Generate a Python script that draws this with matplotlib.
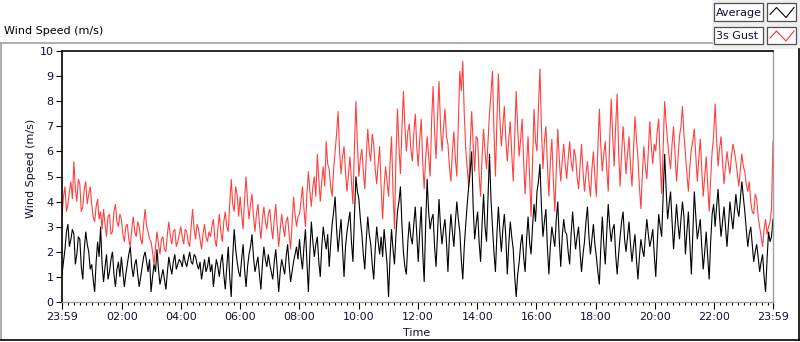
import numpy as np
import matplotlib
matplotlib.use("Agg")
import matplotlib.pyplot as plt
from matplotlib.lines import Line2D
from matplotlib.patches import Rectangle

# ---- data (3-minute resolution, 23:59 -> 23:59) ----
gust = [
    3.4, 4.2, 4.6, 3.6, 3.9, 4.4, 4.8, 4.1, 5.6, 4.5, 4.0, 4.9, 4.7, 3.6, 3.8, 4.5, 4.8, 3.9, 4.3, 4.6,
    3.9, 3.4, 3.2, 3.8, 4.1, 3.3, 3.6, 2.9, 3.7, 3.1, 2.6, 3.4, 3.5, 2.7, 2.8, 3.6, 3.9, 3.2, 3.0, 3.5,
    3.3, 2.7, 2.4, 3.0, 3.1, 2.5, 2.2, 2.9, 3.4, 2.8, 2.6, 3.2, 3.0, 2.5, 2.3, 3.1, 3.7, 3.0, 2.8, 2.5,
    2.4, 2.0, 1.5, 2.2, 2.8, 2.3, 1.9, 2.5, 2.6, 2.1, 2.0, 2.7, 3.2, 2.6, 2.3, 2.8, 2.9, 2.2, 2.4, 2.7,
    3.0, 2.6, 2.3, 2.9, 2.8, 2.4, 2.2, 3.0, 3.7, 2.9, 2.5, 3.1, 2.9, 2.5, 2.1, 2.7, 3.1, 2.6, 2.4, 2.8,
    2.6, 3.0, 3.3, 2.5, 2.2, 2.9, 3.5, 2.8, 2.4, 3.2, 3.6, 3.0, 2.8, 3.9, 4.9, 3.9, 3.6, 4.6, 4.3, 3.4,
    4.2, 3.5, 2.9, 4.1, 5.0, 4.0, 3.3, 3.9, 4.3, 3.4, 2.8, 3.5, 3.9, 3.1, 2.5, 3.3, 3.8, 3.2, 2.9, 3.5,
    3.7, 3.0, 2.5, 3.3, 3.9, 3.0, 2.2, 2.9, 3.5, 3.0, 2.6, 3.2, 3.4, 2.7, 2.1, 3.1, 4.2, 3.5, 3.0, 3.4,
    3.5, 4.0, 4.6, 3.7, 3.0, 4.3, 5.2, 4.4, 3.8, 4.6, 5.0, 4.2, 5.9, 4.9, 4.0, 4.8, 5.4, 4.6, 6.4, 5.5,
    5.3, 4.6, 4.2, 5.3, 6.0, 6.7, 7.6, 6.0, 5.1, 5.8, 6.2, 5.2, 4.4, 5.1, 5.8, 4.8, 3.9, 6.1, 8.0, 6.3,
    5.0, 5.7, 6.1, 5.2, 4.5, 5.8, 6.9, 6.0, 5.6, 6.7, 6.3, 5.3, 4.7, 5.5, 6.2, 4.6, 3.3, 4.6, 5.4, 4.8,
    4.2, 5.5, 6.6, 4.4, 2.9, 5.8, 7.7, 6.2, 5.1, 6.9, 8.4, 7.0, 6.0, 6.8, 7.1, 6.1, 5.6, 6.7, 7.5, 6.2,
    5.4, 6.5, 7.3, 5.6, 4.5, 5.7, 6.6, 5.8, 5.0, 7.2, 8.6, 6.8, 5.7, 7.4, 8.8, 7.0, 6.0, 6.9, 7.7, 6.6,
    6.3, 5.4, 4.8, 6.0, 6.8, 5.7, 5.0, 7.1, 9.2, 8.4, 9.6, 7.5, 6.1, 5.3, 4.6, 6.2, 7.6, 6.3, 5.2, 6.6,
    6.5, 5.1, 4.2, 5.8, 6.9, 6.0, 5.3, 6.4, 7.5, 8.3, 9.2, 6.8, 5.0, 7.2, 9.1, 7.3, 6.2, 7.0, 7.8, 6.5,
    5.6, 6.5, 7.2, 5.9, 4.8, 6.6, 8.4, 6.9, 5.8, 6.5, 7.3, 5.6, 4.3, 5.5, 6.6, 5.0, 3.4, 5.6, 7.7, 6.4,
    6.0, 7.8, 9.3, 6.9, 5.3, 6.4, 7.0, 5.5, 4.2, 5.6, 6.5, 4.9, 3.6, 5.2, 6.9, 5.7, 4.8, 5.6, 6.3, 5.5,
    4.9, 5.7, 6.4, 5.6, 5.2, 6.1, 5.8, 5.0, 4.5, 5.4, 6.3, 5.2, 4.4, 5.1, 5.6, 4.8, 4.2, 5.3, 6.0, 5.0,
    4.2, 6.1, 7.7, 6.2, 5.2, 5.9, 6.4, 5.3, 4.4, 6.5, 8.1, 6.6, 5.4, 7.0, 8.3, 6.0, 4.6, 5.9, 7.0, 6.1,
    5.1, 5.9, 6.6, 5.4, 4.6, 6.0, 7.4, 6.5, 5.8, 4.6, 3.7, 5.1, 6.2, 5.4, 4.9, 6.0, 7.2, 6.2, 5.5, 6.3,
    6.0, 6.8, 7.3, 5.6, 4.3, 6.2, 8.0, 7.1, 6.4, 5.8, 5.3, 6.3, 7.0, 5.9, 4.8, 5.7, 6.6, 7.0, 7.8, 6.7,
    5.9, 5.1, 4.4, 5.4, 6.1, 6.4, 6.9, 5.8, 4.8, 5.7, 6.5, 5.3, 4.2, 5.0, 5.8, 4.7, 3.6, 4.9, 6.0, 6.6,
    7.9, 6.5, 5.4, 6.1, 6.6, 5.6, 4.7, 5.4, 6.0, 5.5, 5.1, 5.8, 6.3, 6.0, 5.6, 5.1, 4.6, 5.3, 5.9, 5.4,
    5.2, 4.7, 4.4, 4.8, 4.0, 3.6, 3.5, 4.3, 4.1, 3.4, 3.0, 2.6, 2.2, 2.9, 3.3, 2.7, 3.0, 3.2, 3.7, 6.4,
]
average = [
    1.1, 1.6, 2.1, 2.8, 3.1, 2.2, 2.5, 2.9, 2.7, 1.5, 1.9, 2.6, 2.5, 1.4, 0.9, 2.1, 2.8, 2.3, 2.0, 1.3,
    1.5, 0.9, 0.4, 1.6, 2.4, 1.8, 3.0, 1.5, 0.8, 1.4, 1.9, 0.9, 1.2, 1.7, 2.0, 1.1, 0.6, 1.3, 1.6, 1.0,
    1.8, 1.2, 0.6, 1.1, 1.5, 1.9, 2.2, 1.4, 1.0, 1.5, 1.7, 1.1, 0.6, 1.0, 1.4, 1.8, 2.0, 1.6, 1.2, 1.7,
    0.4, 1.0, 1.5, 1.2, 2.1, 1.3, 0.7, 1.0, 1.3, 0.9, 0.5, 1.2, 1.8, 1.4, 1.1, 1.6, 1.9, 1.3, 1.5, 1.7,
    1.6, 1.4, 1.9, 1.6, 1.4, 1.7, 2.0, 1.6, 1.5, 1.9, 1.8, 1.5, 1.3, 1.6, 0.9, 1.3, 1.7, 1.2, 1.4, 1.8,
    1.2, 1.5, 0.6, 1.2, 1.7, 1.4, 1.0, 1.6, 1.9, 1.1, 0.5, 1.4, 2.2, 1.0, 0.2, 1.8, 2.9, 2.1, 1.6, 1.2,
    1.0, 1.7, 2.3, 1.3, 0.6, 1.4, 1.9, 2.2, 2.7, 1.8, 1.2, 1.5, 1.8, 1.1, 0.5, 1.5, 2.2, 1.7, 1.4, 1.9,
    1.5, 1.2, 0.9, 1.6, 2.1, 1.3, 0.4, 1.2, 1.7, 1.4, 1.1, 1.8, 2.3, 1.5, 0.8, 1.2, 1.6, 1.9, 2.2, 1.7,
    2.5, 1.8, 1.3, 2.2, 2.9, 1.6, 0.4, 2.0, 3.2, 2.4, 1.8, 2.3, 2.6, 1.6, 1.0, 2.2, 3.0, 2.5, 2.1, 2.7,
    1.4, 2.3, 3.1, 3.6, 4.2, 2.9, 2.0, 2.7, 3.3, 2.1, 1.0, 2.2, 2.8, 3.2, 3.6, 2.4, 1.6, 3.4, 5.0, 4.4,
    4.1, 3.3, 2.7, 1.9, 1.3, 2.5, 3.4, 2.7, 2.3, 1.5, 0.9, 2.1, 3.0, 2.4, 1.9, 2.6, 1.8, 2.9, 2.2, 1.5,
    0.2, 1.8, 2.9, 2.1, 1.5, 2.7, 3.6, 4.0, 4.6, 3.1, 2.0, 1.4, 1.1, 2.4, 3.2, 2.6, 2.3, 3.1, 3.8, 2.7,
    1.6, 2.8, 3.8, 2.0, 0.8, 3.1, 4.9, 3.6, 2.9, 3.3, 3.5, 2.2, 1.4, 2.8, 4.1, 3.0, 2.3, 2.9, 3.3, 2.4,
    1.2, 2.6, 3.5, 2.8, 2.2, 3.2, 4.0, 3.3, 2.8, 1.7, 0.9, 2.2, 3.1, 3.9, 4.6, 5.2, 6.0, 3.8, 2.5, 3.1,
    3.6, 2.4, 1.6, 3.1, 4.3, 3.0, 2.4, 4.2, 5.9, 4.1, 3.0, 2.0, 1.2, 2.7, 3.8, 2.8, 2.0, 2.9, 3.5, 2.6,
    1.1, 2.3, 3.2, 2.6, 2.1, 1.0, 0.2, 1.1, 1.6, 2.3, 2.7, 1.8, 1.2, 2.5, 3.4, 2.4, 1.9, 3.0, 3.9, 3.2,
    4.4, 4.8, 5.5, 3.8, 2.6, 3.2, 3.7, 2.2, 1.1, 2.2, 3.0, 2.6, 2.2, 3.3, 4.0, 2.5, 1.4, 2.6, 3.3, 2.8,
    2.7, 2.0, 1.5, 2.7, 3.6, 2.8, 2.1, 2.6, 3.0, 2.0, 1.2, 1.9, 2.4, 3.2, 3.8, 2.6, 1.9, 2.5, 3.1, 2.3,
    1.8, 1.2, 0.7, 2.2, 3.4, 2.3, 1.5, 2.8, 3.9, 3.0, 2.4, 2.9, 3.1, 1.9, 1.1, 1.9, 2.6, 3.2, 3.6, 2.5,
    2.0, 2.6, 3.2, 2.3, 1.6, 2.2, 2.7, 1.7, 0.9, 1.8, 2.5, 2.1, 1.8, 2.6, 3.3, 2.7, 2.2, 2.5, 2.9, 1.9,
    1.0, 2.3, 3.5, 3.0, 2.6, 4.2, 5.9, 4.5, 3.3, 3.9, 4.4, 3.2, 2.1, 3.0, 3.9, 3.1, 2.5, 3.3, 4.0, 3.4,
    1.9, 2.8, 3.6, 2.3, 1.1, 2.8, 4.4, 3.4, 2.5, 2.9, 3.3, 2.2, 1.3, 2.0, 2.8, 1.8, 0.9, 2.4, 3.5, 3.9,
    3.0, 3.8, 4.5, 3.4, 2.6, 3.2, 3.8, 3.0, 2.2, 3.1, 4.0, 3.4, 2.9, 3.6, 4.3, 3.7, 3.4, 4.1, 4.8, 4.2,
    3.6, 2.9, 2.2, 2.7, 3.0, 2.3, 1.6, 2.0, 2.3, 1.8, 1.2, 1.6, 1.9, 1.0, 0.4, 1.7, 2.8, 2.4, 2.6, 3.3,
]
tick_minutes = [0, 121, 241, 361, 481, 601, 721, 841, 961, 1081, 1201, 1321, 1440]
tick_labels = ["23:59", "02:00", "04:00", "06:00", "08:00", "10:00", "12:00",
               "14:00", "16:00", "18:00", "20:00", "22:00", "23:59"]
series_names = ["Average", "3s Gust"]
total_minutes = 1440

W, H = 800, 342
fig = plt.figure(figsize=(W / 100, H / 100), dpi=100)
fig.patch.set_facecolor("white")
plt.rcParams['font.family'] = ['DejaVu Sans']

def fx(x):
    return x / W

def fy(y):
    return 1 - y / H

# plot area
L, R, T, B = 62, 773, 51, 302
ax = fig.add_axes([fx(L), fy(B), fx(R) - fx(L), fy(T) - fy(B)])
tg = np.linspace(0, total_minutes, len(gust))
ta = np.linspace(0, total_minutes, len(average))
ax.plot(tg, gust, color="#ff4040", lw=0.8, solid_joinstyle="miter")
ax.plot(ta, average, color="black", lw=0.8, solid_joinstyle="miter")
ax.set_xlim(0, total_minutes)
ax.set_ylim(0, 10)

ax.set_xticks(tick_minutes)
ax.set_xticklabels(tick_labels)
minor = [m for m in range(1, total_minutes, 12) if m not in tick_minutes]
ax.set_xticks(minor, minor=True)
ax.set_yticks(range(0, 11))
txtc = "#101030"
ax.tick_params(axis="x", which="major", length=5, width=0.8, pad=2, labelsize=8, colors="black", labelcolor=txtc)
ax.tick_params(axis="x", which="minor", length=2.5, width=0.8, colors="black")
ax.tick_params(axis="y", which="major", length=4, width=0.8, pad=2, labelsize=8, colors="black", labelcolor=txtc)
for s in ["top", "left"]:
    ax.spines[s].set_color("black")
    ax.spines[s].set_linewidth(1.2)
for s in ["bottom", "right"]:
    ax.spines[s].set_color("#a0a0a0")
    ax.spines[s].set_linewidth(1.0)

fig.text(fx(417), fy(333), "Time", ha="center", va="center", fontsize=8, color=txtc)
fig.text(fx(31), fy(168), "Wind Speed (m/s)", ha="center", va="center", rotation=90, fontsize=8, color=txtc)
fig.text(fx(4), fy(31), "Wind Speed (m/s)", ha="left", va="center", fontsize=8, color="black")

# outer frame
def hline(y, x0, x1, c, lw=1.0):
    fig.add_artist(Line2D([fx(x0), fx(x1)], [fy(y), fy(y)], color=c, lw=lw, transform=fig.transFigure))

def vline(x, y0, y1, c, lw=1.0):
    fig.add_artist(Line2D([fx(x), fx(x)], [fy(y0), fy(y1)], color=c, lw=lw, transform=fig.transFigure))

# legend background
fig.add_artist(Rectangle((fx(712), fy(49)), fx(800) - fx(712), fy(0) - fy(49),
                         transform=fig.transFigure, facecolor="#f0f0f0", edgecolor="none"))
hline(42.5, 0, 712, "#a0a0a0", 1.2)
vline(1, 42.5, 340, "#a0a0a0", 1.2)
vline(799, 49, 340, "black", 1.2)
hline(340, 0, 800, "black", 1.2)

# legend entries
rows = [(3.5, 20.5), (27, 44)]
colors = ["black", "#ff3030"]
for (y0, y1), name, c in zip(rows, series_names, colors):
    fig.add_artist(Rectangle((fx(714), fy(y1)), fx(763) - fx(714), fy(y0) - fy(y1),
                             transform=fig.transFigure, facecolor="white", edgecolor="#505050", lw=0.9))
    fig.text(fx(716), fy((y0 + y1) / 2 + 0.5), name, ha="left", va="center", fontsize=8, color=txtc)
    fig.add_artist(Rectangle((fx(767), fy(y1)), fx(796) - fx(767), fy(y0) - fy(y1),
                             transform=fig.transFigure, facecolor="white", edgecolor="#505050", lw=0.9))
    xs = [770, 776.5, 786, 794]
    ys = [y1 - 6, y0 + 4, y1 - 3, y0 + 4]
    fig.add_artist(Line2D([fx(v) for v in xs], [fy(v) for v in ys], color=c, lw=0.8,
                          transform=fig.transFigure))

fig.savefig("out.png", dpi=100, facecolor="white")
